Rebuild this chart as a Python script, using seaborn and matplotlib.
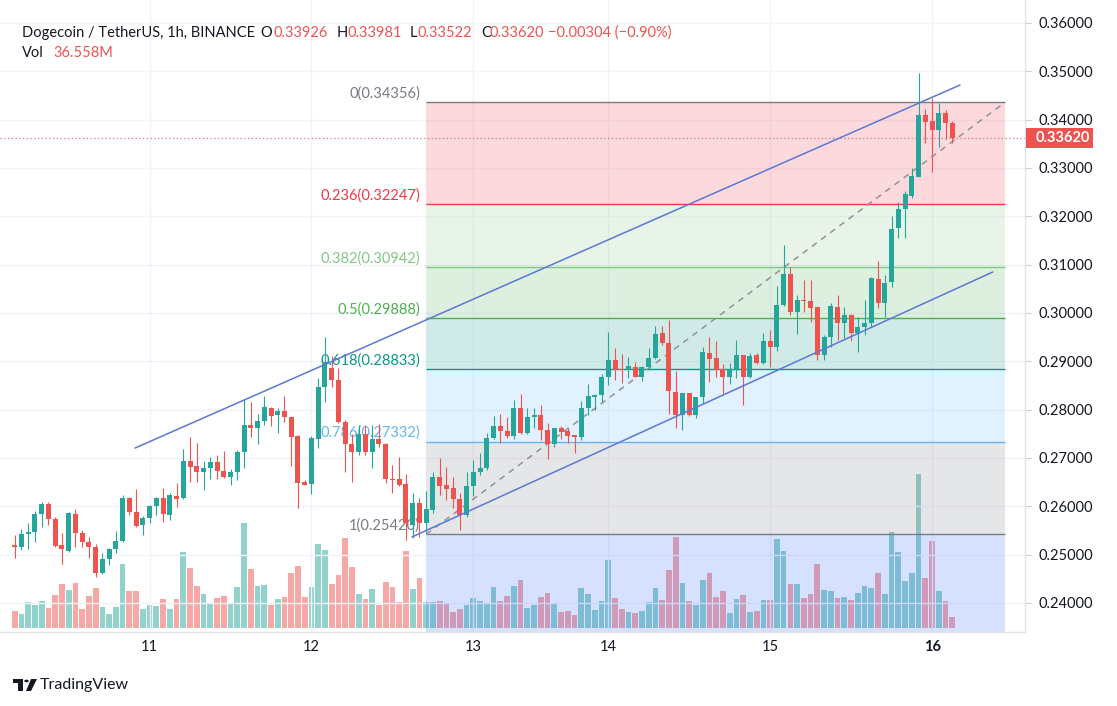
import numpy as np
import pandas as pd
import matplotlib
matplotlib.use("Agg")
import matplotlib.pyplot as plt
import matplotlib.transforms as mtransforms
from matplotlib.patches import Rectangle, Polygon, Circle
import seaborn as sns

# ---------------- data (DOGE/USDT 1h) ----------------
open_ = [0.2520, 0.2515, 0.2542, 0.2546, 0.2584, 0.2604, 0.2573, 0.2520, 0.2508, 0.2584,
         0.2544, 0.2526, 0.2515, 0.2461, 0.2490, 0.2511, 0.2529, 0.2617, 0.2589, 0.2561,
         0.2575, 0.2601, 0.2617, 0.2582, 0.2622, 0.2617, 0.2694, 0.2683, 0.2672, 0.2679,
         0.2692, 0.2674, 0.2660, 0.2672, 0.2712, 0.2768, 0.2763, 0.2777, 0.2803, 0.2788,
         0.2798, 0.2784, 0.2745, 0.2651, 0.2646, 0.2740, 0.2846, 0.2887, 0.2861, 0.2775,
         0.2729, 0.2712, 0.2750, 0.2712, 0.2740, 0.2728, 0.2657, 0.2657, 0.2647, 0.2561,
         0.2606, 0.2565, 0.2592, 0.2661, 0.2644, 0.2637, 0.2615, 0.2582, 0.2642, 0.2670,
         0.2679, 0.2741, 0.2766, 0.2756, 0.2745, 0.2804, 0.2751, 0.2784, 0.2789, 0.2758,
         0.2729, 0.2761, 0.2756, 0.2748, 0.2744, 0.2803, 0.2827, 0.2830, 0.2867, 0.2903,
         0.2885, 0.2883, 0.2888, 0.2868, 0.2888, 0.2906, 0.2958, 0.2937, 0.2837, 0.2789,
         0.2834, 0.2789, 0.2826, 0.2918, 0.2906, 0.2884, 0.2868, 0.2884, 0.2913, 0.2867,
         0.2913, 0.2896, 0.2941, 0.2929, 0.3017, 0.3081, 0.3001, 0.3027, 0.3025, 0.3012,
         0.2913, 0.2950, 0.3012, 0.2979, 0.2996, 0.2958, 0.2970, 0.2979, 0.3070, 0.3021,
         0.3065, 0.3175, 0.3215, 0.3242, 0.3282, 0.3410, 0.3398, 0.3379, 0.3414, 0.33926]
high = [0.2541, 0.2552, 0.2565, 0.2591, 0.2608, 0.2609, 0.2578, 0.2544, 0.2588, 0.2594,
        0.2551, 0.2537, 0.2522, 0.2503, 0.2513, 0.2548, 0.2623, 0.2620, 0.2635, 0.2580,
        0.2603, 0.2620, 0.2637, 0.2627, 0.2649, 0.2719, 0.2743, 0.2730, 0.2694, 0.2703,
        0.2706, 0.2715, 0.2677, 0.2717, 0.2821, 0.2816, 0.2792, 0.2829, 0.2805, 0.2803,
        0.2829, 0.2785, 0.2747, 0.2654, 0.2745, 0.2866, 0.2951, 0.2911, 0.2886, 0.2778,
        0.2750, 0.2768, 0.2769, 0.2769, 0.2770, 0.2730, 0.2686, 0.2701, 0.2667, 0.2627,
        0.2617, 0.2632, 0.2672, 0.2699, 0.2682, 0.2661, 0.2627, 0.2672, 0.2696, 0.2710,
        0.2751, 0.2787, 0.2791, 0.2785, 0.2820, 0.2832, 0.2803, 0.2803, 0.2810, 0.2772,
        0.2763, 0.2766, 0.2763, 0.2748, 0.2817, 0.2853, 0.2832, 0.2874, 0.2961, 0.2927,
        0.2915, 0.2908, 0.2899, 0.2890, 0.2927, 0.2973, 0.2973, 0.2986, 0.2879, 0.2835,
        0.2835, 0.2827, 0.2930, 0.2950, 0.2941, 0.2895, 0.2896, 0.2944, 0.2913, 0.2918,
        0.2917, 0.2959, 0.2965, 0.3056, 0.3141, 0.3096, 0.3037, 0.3069, 0.3068, 0.3012,
        0.2954, 0.3020, 0.3037, 0.3013, 0.2998, 0.2992, 0.3027, 0.3075, 0.3108, 0.3079,
        0.3201, 0.3230, 0.3253, 0.3301, 0.3496, 0.3423, 0.3444, 0.3434, 0.3421, 0.33981]
low = [0.2493, 0.2510, 0.2511, 0.2527, 0.2558, 0.2561, 0.2516, 0.2481, 0.2506, 0.2516,
       0.2515, 0.2492, 0.2454, 0.2460, 0.2479, 0.2503, 0.2527, 0.2582, 0.2557, 0.2541,
       0.2566, 0.2582, 0.2568, 0.2572, 0.2598, 0.2615, 0.2651, 0.2651, 0.2634, 0.2656,
       0.2656, 0.2658, 0.2644, 0.2654, 0.2679, 0.2743, 0.2729, 0.2768, 0.2766, 0.2752,
       0.2775, 0.2684, 0.2596, 0.2644, 0.2625, 0.2720, 0.2816, 0.2847, 0.2772, 0.2672,
       0.2651, 0.2706, 0.2706, 0.2679, 0.2723, 0.2648, 0.2627, 0.2643, 0.2530, 0.2534,
       0.2537, 0.2544, 0.2587, 0.2623, 0.2613, 0.2596, 0.2551, 0.2577, 0.2621, 0.2665,
       0.2675, 0.2739, 0.2730, 0.2741, 0.2739, 0.2750, 0.2750, 0.2763, 0.2737, 0.2697,
       0.2723, 0.2739, 0.2730, 0.2711, 0.2737, 0.2789, 0.2799, 0.2816, 0.2851, 0.2861,
       0.2856, 0.2865, 0.2867, 0.2860, 0.2882, 0.2904, 0.2934, 0.2792, 0.2761, 0.2758,
       0.2787, 0.2782, 0.2814, 0.2858, 0.2868, 0.2832, 0.2853, 0.2865, 0.2810, 0.2866,
       0.2894, 0.2894, 0.2888, 0.2922, 0.3015, 0.2996, 0.2956, 0.3003, 0.2982, 0.2903,
       0.2903, 0.2930, 0.2944, 0.2948, 0.2941, 0.2920, 0.2954, 0.2972, 0.3010, 0.2992,
       0.3054, 0.3155, 0.3155, 0.3237, 0.3281, 0.3352, 0.3292, 0.3344, 0.3361, 0.33522]
close = [0.2516, 0.2542, 0.2546, 0.2584, 0.2605, 0.2573, 0.2518, 0.2511, 0.2586, 0.2544,
         0.2526, 0.2515, 0.2461, 0.2490, 0.2511, 0.2529, 0.2618, 0.2589, 0.2559, 0.2575,
         0.2601, 0.2617, 0.2584, 0.2623, 0.2615, 0.2694, 0.2682, 0.2672, 0.2679, 0.2692,
         0.2674, 0.2660, 0.2672, 0.2712, 0.2768, 0.2761, 0.2777, 0.2805, 0.2787, 0.2798,
         0.2784, 0.2744, 0.2649, 0.2644, 0.2741, 0.2846, 0.2899, 0.2861, 0.2775, 0.2729,
         0.2712, 0.2750, 0.2712, 0.2740, 0.2728, 0.2657, 0.2655, 0.2645, 0.2565, 0.2606,
         0.2565, 0.2594, 0.2661, 0.2642, 0.2635, 0.2615, 0.2582, 0.2642, 0.2672, 0.2679,
         0.2741, 0.2766, 0.2756, 0.2745, 0.2804, 0.2751, 0.2785, 0.2789, 0.2758, 0.2729,
         0.2761, 0.2754, 0.2745, 0.2744, 0.2803, 0.2828, 0.2830, 0.2868, 0.2903, 0.2883,
         0.2883, 0.2890, 0.2868, 0.2888, 0.2906, 0.2956, 0.2937, 0.2839, 0.2789, 0.2834,
         0.2789, 0.2826, 0.2920, 0.2904, 0.2882, 0.2868, 0.2885, 0.2913, 0.2867, 0.2911,
         0.2896, 0.2943, 0.2929, 0.3017, 0.3081, 0.3001, 0.3026, 0.3024, 0.3010, 0.2913,
         0.2951, 0.3014, 0.2979, 0.2996, 0.2958, 0.2970, 0.2979, 0.3072, 0.3021, 0.3063,
         0.3173, 0.3215, 0.3246, 0.3283, 0.3410, 0.3396, 0.3379, 0.3414, 0.33924, 0.33620]
volume_m = [56.4, 46.5, 86.3, 76.4, 89.6, 66.4, 109.6, 146.1, 126.2, 149.4,
            63.1, 106.2, 132.8, 69.7, 46.5, 69.7, 212.5, 122.8, 122.8, 63.1,
            76.4, 73.0, 96.3, 63.1, 96.3, 252.3, 199.2, 139.4, 112.9, 79.7,
            99.6, 106.2, 83.0, 136.1, 348.6, 195.9, 139.4, 142.8, 76.4, 96.3,
            102.9, 182.6, 205.8, 102.9, 136.1, 278.9, 259.0, 146.1, 176.0, 298.8,
            202.5, 112.9, 96.3, 129.5, 76.4, 152.7, 136.1, 86.3, 255.6, 129.5,
            166.0, 86.3, 86.3, 89.6, 83.0, 53.1, 63.1, 76.4, 99.6, 89.6,
            83.0, 136.1, 89.6, 106.2, 139.4, 159.4, 66.4, 76.4, 102.9, 116.2,
            79.7, 53.1, 56.4, 43.2, 132.8, 112.9, 59.8, 89.6, 225.8, 99.6,
            63.1, 53.1, 49.8, 56.4, 86.3, 132.8, 93.0, 192.6, 302.1, 149.4,
            89.6, 76.4, 159.4, 182.6, 102.9, 122.8, 49.8, 96.3, 109.6, 53.1,
            56.4, 93.0, 93.0, 295.5, 255.6, 146.1, 146.1, 99.6, 112.9, 212.5,
            126.2, 122.8, 99.6, 102.9, 93.0, 116.2, 139.4, 132.8, 182.6, 112.9,
            318.7, 252.3, 156.0, 182.6, 511.3, 166.0, 288.8, 122.8, 89.6, 36.558]

day_tick_pos = [20, 44, 68, 88, 112, 136]
day_labels = ["11", "12", "13", "14", "15", "16"]
price_ticks = [0.24, 0.25, 0.26, 0.27, 0.28, 0.29, 0.30, 0.31, 0.32, 0.33, 0.34, 0.35, 0.36]

fib_ratios = [0, 0.236, 0.382, 0.5, 0.618, 0.786, 1, 1.618]
fib_prices = [0.34356, 0.32247, 0.30942, 0.29888, 0.28833, 0.27332, 0.25420, 0.19898]
fib_colors = ["#787b86", "#f23645", "#81c784", "#4caf50", "#089981", "#64b5f6", "#787b86", "#2962ff"]
fib_start, fib_end = 61, 146.8

upper_channel_x, upper_channel_y = [17.85, 140.15], [0.27206, 0.34717]
lower_channel_x, lower_channel_y = [58.9, 145.0], [0.25365, 0.30848]
trend_x, trend_y = [61, 146.8], [0.25420, 0.34356]

# ---------------- style ----------------
sns.set_theme(style="white")
plt.rcParams["font.family"] = ["Lato", "DejaVu Sans"]

UP, DOWN = "#26a69a", "#ef5350"
DARK = "#131722"
GRID = "#f0f3fa"
W, H = 1117, 706
FS = 10.5

df = pd.DataFrame({"i": np.arange(len(close)), "open": open_, "high": high,
                   "low": low, "close": close, "vol": volume_m})
df["dir"] = np.where(df["close"] >= df["open"], "up", "down")

fig = plt.figure(figsize=(W / 100, H / 100), dpi=100)
fig.patch.set_facecolor("white")

def fx(x):
    return x / W

def fy(y):
    return 1 - y / H

xlim = (-14.7 / 6.745, (1025 - 14.7) / 6.745)
ylim = (0.36 - 609 / 4833, 0.36 + 23 / 4833)

# volume pane (bottom layer)
ax_vol = fig.add_axes([0, fy(628), fx(1025), 628 / H])
ax_vol.set_zorder(0)
sns.barplot(data=df, x="i", y="vol", hue="dir", palette={"up": UP, "down": DOWN},
            native_scale=True, dodge=False, legend=False, width=0.85, alpha=0.5,
            saturation=1, linewidth=0, errorbar=None, ax=ax_vol)
ax_vol.set_xlim(*xlim)
ax_vol.set_ylim(0, 628 * 3.32)
ax_vol.axis("off")

# price pane
ax = fig.add_axes([0, fy(632), fx(1025), 632 / H])
ax.set_zorder(1)
ax.patch.set_visible(False)
ax.set_xlim(*xlim)
ax.set_ylim(*ylim)

# grid
for p in price_ticks:
    ax.axhline(p, color=GRID, lw=1, zorder=0)
for d in day_tick_pos:
    ax.axvline(d, color=GRID, lw=1, zorder=0)

# fib retracement bands
for k in range(1, len(fib_prices)):
    ax.fill_between([fib_start, fib_end], fib_prices[k], fib_prices[k - 1],
                    color=fib_colors[k], alpha=0.19, lw=0, zorder=1)
for k in range(len(fib_prices) - 1):
    ax.hlines(fib_prices[k], fib_start, fib_end, color=fib_colors[k], lw=1, zorder=2)
    ax.annotate(f"{fib_ratios[k]:g}({fib_prices[k]:.5f})", xy=(fib_start, fib_prices[k]),
                xytext=(-4.5, 1.5), textcoords="offset points", ha="right", va="bottom",
                color=fib_colors[k], fontsize=FS, zorder=2)

# trend / channel lines
ax.plot(trend_x, trend_y, color="#8f929b", lw=1.1, ls=(0, (4, 3.5)), zorder=2)
ax.plot(upper_channel_x, upper_channel_y, color="#5b78d6", lw=1.1, zorder=5)
ax.plot(lower_channel_x, lower_channel_y, color="#5b78d6", lw=1.1, zorder=5)

# candles
o = df["open"].to_numpy(); c = df["close"].to_numpy()
cols = np.where(df["dir"] == "up", UP, DOWN)
ax.vlines(df["i"], df["low"], df["high"], colors=cols, lw=0.8, zorder=3)
ax.bar(df["i"], np.maximum(np.abs(c - o), 0.00012), bottom=np.minimum(o, c),
       width=0.74, color=cols, lw=0, zorder=4)

# last price line
last_price = close[-1]
ax.axhline(last_price, color="#d9747a", lw=0.9, ls=(0, (1, 2)), zorder=2)

# axes cosmetics
for s in ["left", "top"]:
    ax.spines[s].set_visible(False)
for s in ["right", "bottom"]:
    ax.spines[s].set_color("#e0e3eb")
    ax.spines[s].set_linewidth(1)
ax.yaxis.tick_right()
ax.set_yticks(price_ticks)
ax.set_yticklabels([f"{p:.5f}" for p in price_ticks])
ax.tick_params(axis="y", length=4, width=0.8, color="#c9ccd4", pad=6,
               labelsize=FS, labelcolor=DARK, right=True, left=False)
ax.set_xticks(day_tick_pos)
ax.set_xticklabels(day_labels)
ax.tick_params(axis="x", length=0, pad=6, labelsize=FS, labelcolor=DARK)
ax.get_xticklabels()[-1].set_fontweight("bold")
ax.set_xlabel(""); ax.set_ylabel("")

# last price tag on the price scale
blend = mtransforms.blended_transform_factory(fig.transFigure, ax.transData)
tag_h = 20 / 4833
fig.patches.append(Rectangle((fx(1026), last_price - tag_h / 2), fx(1093) - fx(1026), tag_h,
                             transform=blend, facecolor="#ef5350", edgecolor="none",
                             zorder=10, figure=fig))
fig.text(fx(1036), last_price, f"{last_price:.5f}", transform=blend, color="white",
         fontsize=FS, fontweight="bold", va="center", ha="left", zorder=11)

# header legend
prev_close = close[-2]
chg = close[-1] - prev_close
pct = chg / prev_close * 100
header = [
    (22, 33, "Dogecoin / TetherUS, 1h, BINANCE", DARK),
    (260, 33, "O", DARK), (273, 33, f"{open_[-1]:.5f}", DOWN),
    (337, 33, "H", DARK), (348, 33, f"{high[-1]:.5f}", DOWN),
    (410, 33, "L", DARK), (418, 33, f"{low[-1]:.5f}", DOWN),
    (481, 33, "C", DARK), (490, 33, f"{close[-1]:.5f}", DOWN),
    (548, 33, f"\u2212{abs(chg):.5f} (\u2212{abs(pct):.2f}%)", DOWN),
    (22, 53, "Vol", DARK), (53, 53, f"{volume_m[-1]:.3f}M", DOWN),
]
for x, y, t, col in header:
    fig.text(fx(x), fy(y), t, color=col, fontsize=FS, ha="left", va="center")

# TradingView logo
fig.patches.append(Polygon([(fx(13), fy(679)), (fx(23), fy(679)), (fx(23), fy(691)),
                            (fx(18), fy(691)), (fx(18), fy(683)), (fx(13), fy(683))],
                           closed=True, transform=fig.transFigure, facecolor=DARK,
                           edgecolor="none", figure=fig))
fig.patches.append(Circle((fx(26.5), fy(681)), 2.2 / W, transform=fig.transFigure,
                          facecolor=DARK, edgecolor="none", figure=fig))
fig.patches.append(Polygon([(fx(31), fy(679)), (fx(37), fy(679)), (fx(31), fy(691)),
                            (fx(26), fy(691))], closed=True, transform=fig.transFigure,
                           facecolor=DARK, edgecolor="none", figure=fig))
fig.text(fx(40), fy(685), "TradingView", color=DARK, fontsize=11.5, ha="left", va="center")

fig.savefig("out.png", dpi=100, facecolor="white")
